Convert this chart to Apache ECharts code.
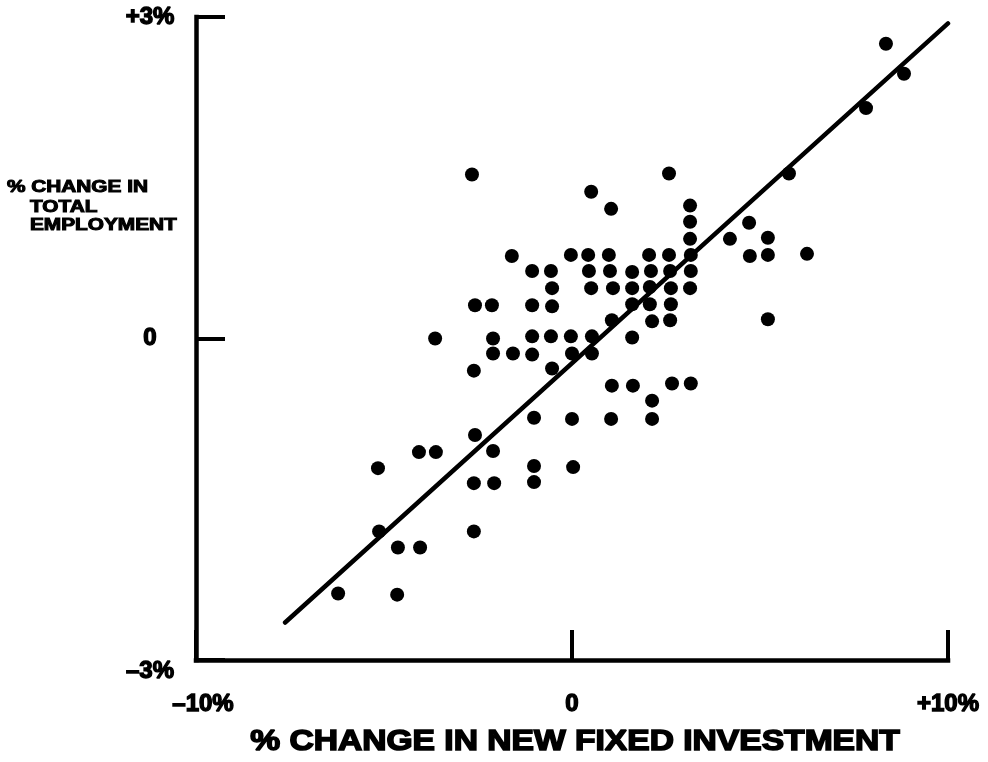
<!DOCTYPE html>
<html>
<head>
<meta charset="utf-8">
<title>Employment vs. New Fixed Investment</title>
<script src="https://cdn.jsdelivr.net/npm/echarts@6/dist/echarts.min.js"></script>
<style>
  html, body { margin: 0; padding: 0; background: #fff; }
  #chart { width: 988px; height: 762px; }
</style>
</head>
<body>
<div id="chart"></div>
<script>
// % change in new fixed investment (x) for each observation
const investmentChange = [
  -6.22, -5.16, -5.13, -4.65, -4.63, -4.04, -4.07, -3.62, -3.64, -2.66,
  -2.61, -2.58, -2.58, -2.61, -2.61, -2.13, -2.10, -2.10, -2.10, -2.07,
  -1.60, -1.57, -1.06, -1.06, -1.06, -1.06, -1.01, -1.01, -1.01, -0.56,
  -0.53, -0.53, -0.56, -0.53, -0.03, -0.03, 0.00, 0.00, 0.03, 0.51,
  0.43, 0.45, 0.51, 0.53, 0.53, 1.04, 0.98, 1.01, 1.09, 1.06,
  1.06, 1.04, 1.60, 1.60, 1.60, 1.60, 1.62, 2.05, 2.10, 2.07,
  2.07, 2.13, 2.13, 2.13, 2.58, 2.58, 2.61, 2.63, 2.63, 2.61,
  2.66, 3.14, 3.14, 3.14, 3.16, 3.16, 3.14, 3.16, 4.20, 4.71,
  4.73, 5.21, 5.21, 5.21, 6.25, 5.77, 7.82, 8.35, 8.83
];

// % change in total employment (y) for the same observations
const employmentChange = [
  -2.38, -1.21, -1.80, -2.39, -1.95, -1.95, -1.06, -1.06, 0.00, 1.53,
  -0.30, 0.31, -0.90, -1.35, -1.80, 0.31, 0.00, -0.14, -1.05, -1.35,
  0.77, -0.14, 0.63, 0.31, 0.02, -0.15, -0.74, -1.19, -1.34, 0.63,
  0.47, 0.30, 0.02, -0.28, 0.78, 0.02, -0.14, -0.75, -1.20, 1.37,
  0.78, 0.63, 0.47, 0.02, -0.14, 1.21, 0.78, 0.63, 0.47, 0.17,
  -0.44, -0.75, 0.62, 0.47, 0.32, 0.01, -0.44, 0.78, 0.63, 0.48,
  0.32, 0.16, -0.58, -0.75, 1.54, 0.78, 0.63, 0.47, 0.32, 0.17,
  -0.42, 1.24, 1.09, 0.93, 0.78, 0.63, 0.47, -0.42, 0.93, 1.08,
  0.77, 0.94, 0.78, 0.18, 0.79, 1.54, 2.15, 2.75, 2.47
];

// fitted trend line end points [investment, employment]
const trendX = [-7.63, 10.0];
const trendY = [-2.65, 2.94];

// axis tick labels
const xTickValues = [-10, 0, 10];
const xTickLabels = ['\u201310%', '0', '+10%'];
const yTickValues = [-3, 0, 3];
const yTickLabels = ['\u20133%', '0', '+3%'];

const xTitle = '% CHANGE IN NEW FIXED INVESTMENT';
const yTitleLines = ['% CHANGE IN', 'TOTAL', 'EMPLOYMENT'];

const points = investmentChange.map((x, i) => [x, employmentChange[i]]);
const trend = trendX.map((x, i) => [x, trendY[i]]);

const FONT = '"Liberation Sans", Arial, sans-serif';
const INK = '#000';

function tickLabel(values, labels, v) {
  const i = values.indexOf(v);
  return i < 0 ? '' : labels[i];
}

// heavy lettering: bold face plus a thin outline in the same ink
const heavy = { textBorderColor: INK, textBorderWidth: 1.4 };

const chart = echarts.init(document.getElementById('chart'), null, { renderer: 'canvas' });

chart.setOption({
  backgroundColor: '#fff',
  animation: false,
  grid: { left: 196, right: 40, top: 17, bottom: 102, containLabel: false },
  xAxis: {
    type: 'value',
    min: -10, max: 10, interval: 10,
    splitLine: { show: false },
    axisLine: { show: true, onZero: false, lineStyle: { color: INK, width: 4.5, cap: 'square' } },
    axisTick: { show: true, inside: true, length: 30, lineStyle: { color: INK, width: 4 } },
    axisLabel: Object.assign({
      color: INK, fontFamily: FONT, fontWeight: 'bold', fontSize: 24,
      margin: 44, verticalAlign: 'middle',
      formatter: v => v === -10 ? '{shift|' + tickLabel(xTickValues, xTickLabels, v) + '}'
                                : tickLabel(xTickValues, xTickLabels, v),
      rich: { shift: Object.assign({ fontFamily: FONT, fontWeight: 'bold', fontSize: 24, color: INK, padding: [0, 0, 0, 14] }, heavy) }
    }, heavy)
  },
  yAxis: {
    type: 'value',
    min: -3, max: 3, interval: 3,
    splitLine: { show: false },
    axisLine: { show: true, onZero: false, lineStyle: { color: INK, width: 4.5, cap: 'square' } },
    axisTick: { show: true, inside: true, length: 29, lineStyle: { color: INK, width: 4 } },
    axisLabel: Object.assign({
      color: INK, fontFamily: FONT, fontWeight: 'bold', fontSize: 24,
      margin: 46, align: 'center',
      formatter: v => v === -3 ? '{low|' + tickLabel(yTickValues, yTickLabels, v) + '}'
                               : tickLabel(yTickValues, yTickLabels, v),
      rich: { low: Object.assign({ fontFamily: FONT, fontWeight: 'bold', fontSize: 24, color: INK, padding: [22, 0, 0, 0] }, heavy) }
    }, heavy)
  },
  series: [
    {
      type: 'scatter',
      data: points,
      symbol: 'circle',
      symbolSize: 14,
      itemStyle: { color: INK, opacity: 1 },
      z: 3
    },
    {
      type: 'line',
      data: trend,
      showSymbol: false,
      symbol: 'none',
      lineStyle: { color: INK, width: 4.5, cap: 'round' },
      z: 4
    }
  ],
  graphic: [
    {
      type: 'text', x: 575, y: 742, scaleX: 1.12,
      style: { text: xTitle, fill: INK, stroke: INK, lineWidth: 1.6, font: 'bold 30px ' + FONT, textAlign: 'center', textVerticalAlign: 'middle' }
    },
    {
      type: 'text', x: 7, y: 188, scaleX: 1.3,
      style: { text: yTitleLines[0], fill: INK, stroke: INK, lineWidth: 1, font: 'bold 16px ' + FONT, textAlign: 'left', textVerticalAlign: 'middle' }
    },
    {
      type: 'text', x: 30, y: 208, scaleX: 1.3,
      style: { text: yTitleLines[1], fill: INK, stroke: INK, lineWidth: 1, font: 'bold 16px ' + FONT, textAlign: 'left', textVerticalAlign: 'middle' }
    },
    {
      type: 'text', x: 30, y: 226, scaleX: 1.3,
      style: { text: yTitleLines[2], fill: INK, stroke: INK, lineWidth: 1, font: 'bold 16px ' + FONT, textAlign: 'left', textVerticalAlign: 'middle' }
    }
  ]
});
</script>
</body>
</html>
